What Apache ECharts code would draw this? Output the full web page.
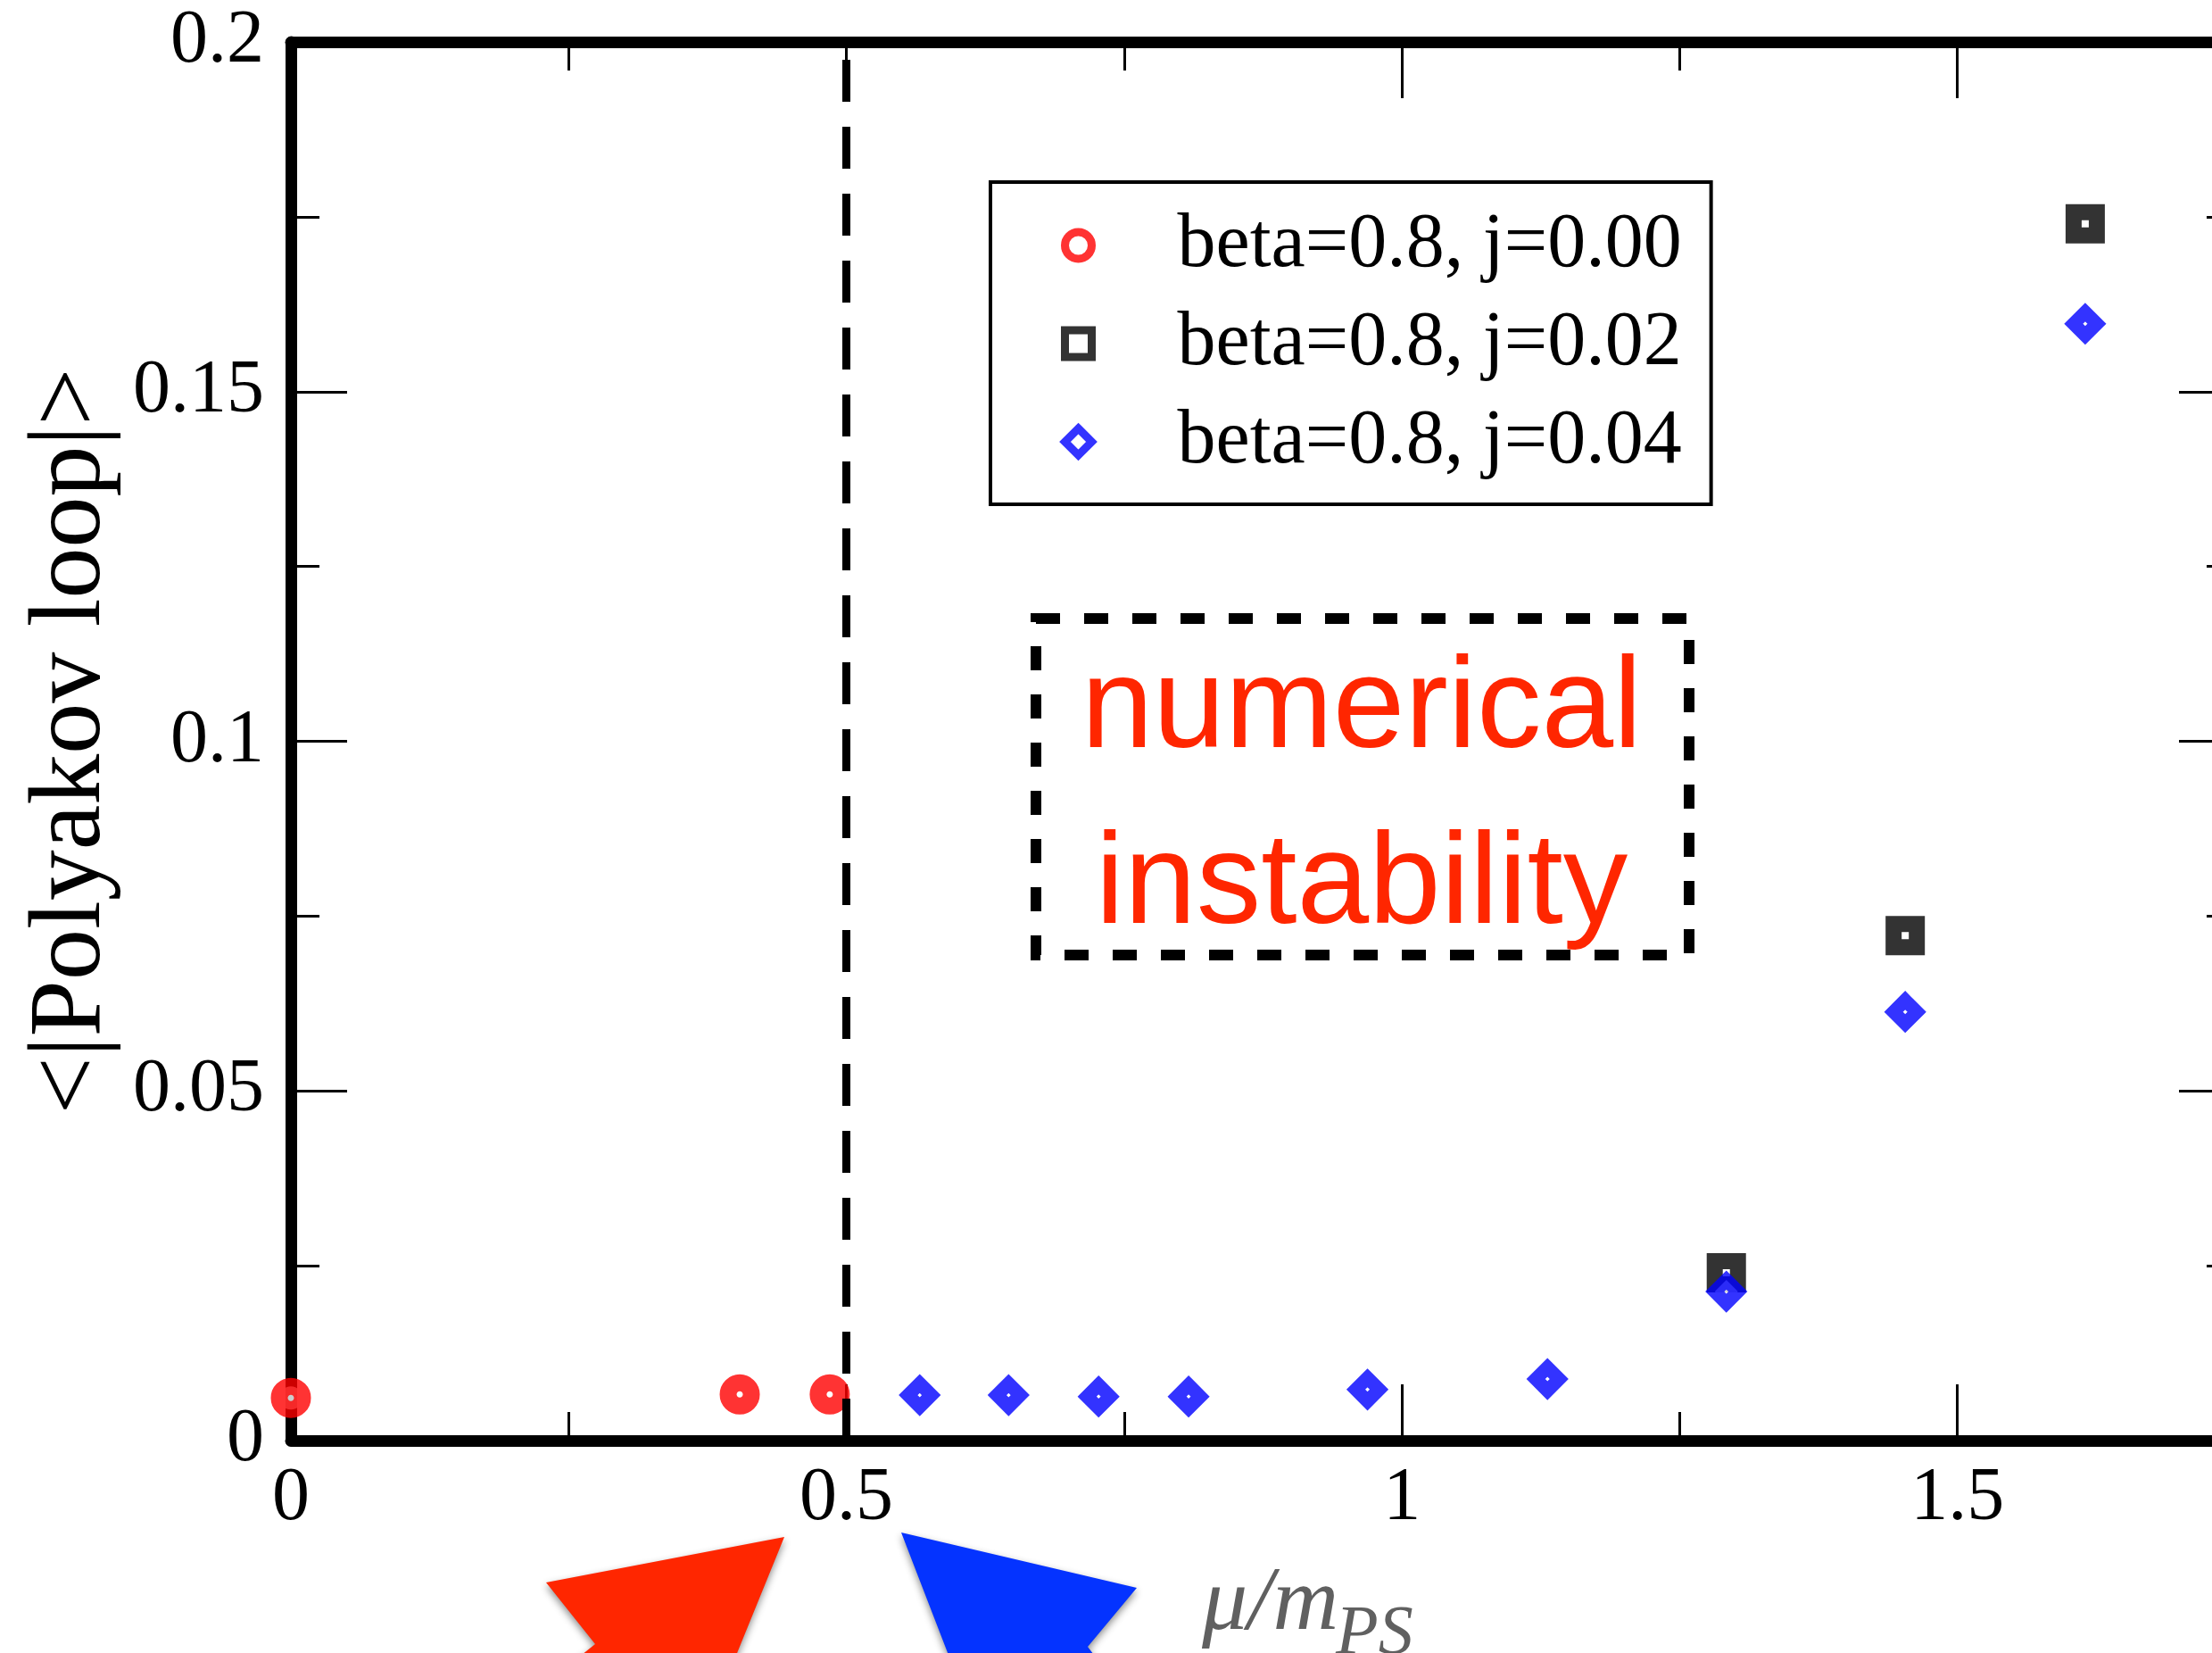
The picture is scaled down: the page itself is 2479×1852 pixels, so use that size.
<!DOCTYPE html>
<html><head><meta charset="utf-8">
<script src="https://cdn.jsdelivr.net/npm/echarts@6/dist/echarts.min.js"></script>
<style>html,body{margin:0;padding:0;background:#fff}#c{width:2479px;height:1852px}</style>
</head><body><div id="c"></div>
<script>
// ---- data ----
const seriesNames = ['beta=0.8, j=0.00', 'beta=0.8, j=0.02', 'beta=0.8, j=0.04'];
const muJ000 = [0, 0.404, 0.485];
const polyJ000 = [0.0061, 0.0066, 0.0066];
const muJ002 = [1.292, 1.453, 1.615];
const polyJ002 = [0.0240, 0.0722, 0.1740];
const muJ004 = [0.566, 0.646, 0.727, 0.808, 0.969, 1.131, 1.292, 1.453, 1.615];
const polyJ004 = [0.0065, 0.0065, 0.0063, 0.0063, 0.0073, 0.0088, 0.0213, 0.0613, 0.1597];
const xRange = [0, 1.75];
const yRange = [0, 0.2];
const xMajor = 0.5, xMinor = 0.25;
const yMajor = 0.05, yMinor = 0.025;
const boundaryMu = [0.5];
const annotationLines = ['numerical', 'instability'];
const xName = 'μ/m', xNameSub = 'PS';
const yName = '<|Polyakov loop|>';

const pairs = (xs, ys) => xs.map((x, i) => [x, ys[i]]);
const serif = '"Liberation Serif", "Times New Roman", serif';

function xAxisDef(pos, major, showLine) {
  return {
    type: 'value', position: pos, min: xRange[0], max: xRange[1],
    interval: major ? xMajor : xMinor,
    axisLine: { show: showLine, onZero: false, lineStyle: { color: '#000', width: 13 } },
    axisTick: { show: true, inside: true, length: major ? 63 : 32, lineStyle: { color: '#000', width: 3 } },
    axisLabel: {
      show: major && pos === 'bottom', margin: 24, fontSize: 84, fontFamily: serif, color: '#000',
      showMaxLabel: false,
      formatter: v => (Math.abs(v / xMajor - Math.round(v / xMajor)) < 1e-9 ? String(+v.toFixed(2)) : '')
    },
    splitLine: { show: false }
  };
}
function yAxisDef(pos, major, showLine) {
  const d = {
    type: 'value', position: pos, min: yRange[0], max: yRange[1],
    interval: major ? yMajor : yMinor,
    axisLine: { show: showLine, onZero: false, lineStyle: { color: '#000', width: 13 } },
    axisTick: { show: true, inside: true, length: major ? 63 : 32, lineStyle: { color: '#000', width: 3 } },
    axisLabel: { show: major && pos === 'left', margin: 30, fontSize: 84, fontFamily: serif, color: '#000' },
    splitLine: { show: false }
  };
  if (major && pos === 'left') {
    d.name = yName; d.nameLocation = 'middle'; d.nameGap = 186; d.nameRotate = 90;
    d.nameTextStyle = { fontSize: 114, fontFamily: serif, color: '#000' };
  }
  return d;
}

const chart = echarts.init(document.getElementById('c'), null, { renderer: 'canvas' });
chart.setOption({
  animation: false,
  backgroundColor: '#fff',
  grid: { left: 326, top: 47, width: 2179, height: 1567, containLabel: false, outerBoundsMode: 'none' },
  xAxis: [xAxisDef('bottom', true, true), xAxisDef('bottom', false, false), xAxisDef('top', true, true), xAxisDef('top', false, false)],
  yAxis: [yAxisDef('left', true, true), yAxisDef('left', false, false), yAxisDef('right', true, true), yAxisDef('right', false, false)],
  legend: {
    orient: 'vertical', left: 1110, top: 204,
    padding: [21, 33, 20, 79],
    itemWidth: 30, itemHeight: 30, itemGap: 10,
    borderColor: '#000', borderWidth: 4, backgroundColor: '#fff',
    selectedMode: false,
    itemStyle: { borderWidth: 9 },
    textStyle: { fontFamily: serif, fontSize: 86, color: '#000', lineHeight: 100, padding: [0, 0, 0, 91] },
    data: seriesNames
  },
  series: [
    {
      name: seriesNames[0], type: 'scatter', clip: false, symbol: 'circle', symbolSize: 26,
      itemStyle: { color: '#fff', borderColor: '#FF0000', borderWidth: 19 },
      data: pairs(muJ000, polyJ000),
      markLine: {
        silent: true, symbol: ['none', 'none'], label: { show: false },
        lineStyle: { color: '#000', width: 9, type: [47, 28] },
        data: boundaryMu.map(v => ({ xAxis: v }))
      }
    },
    {
      name: seriesNames[1], type: 'scatter', clip: false, symbol: 'rect', symbolSize: 26,
      itemStyle: { color: '#fff', borderColor: '#000', borderWidth: 18 },
      data: pairs(muJ002, polyJ002)
    },
    {
      name: seriesNames[2], type: 'scatter', clip: false, symbol: 'diamond', symbolSize: 26,
      itemStyle: { color: '#fff', borderColor: '#0000FF', borderWidth: 15 },
      data: pairs(muJ004, polyJ004)
    }
  ],
  graphic: [
    { type: 'rect', z: 10, shape: { x: 1161, y: 693, width: 732, height: 377 },
      style: { fill: 'none', stroke: '#000', lineWidth: 12, lineDash: [27, 27] } },
    { type: 'text', z: 10, x: 1526, y: 797,
      style: { text: annotationLines[0], fill: '#FF2600', font: '145px "Liberation Sans", Arial, sans-serif',
               align: 'center', verticalAlign: 'middle', textAlign: 'center', textVerticalAlign: 'middle' } },
    { type: 'text', z: 10, x: 1526, y: 994,
      style: { text: annotationLines[1], fill: '#FF2600', font: '145px "Liberation Sans", Arial, sans-serif',
               align: 'center', verticalAlign: 'middle', textAlign: 'center', textVerticalAlign: 'middle' } },
    { type: 'polygon', z: 10, shape: { points: [[879, 1722], [612, 1773], [667, 1842], [642, 1862], [822, 1862]] },
      style: { fill: '#FF2600', shadowBlur: 8, shadowOffsetX: 0, shadowOffsetY: 4, shadowColor: 'rgba(0,0,0,0.45)' } },
    { type: 'polygon', z: 10, shape: { points: [[1010, 1717], [1274, 1779], [1219, 1845], [1232, 1862], [1066, 1862]] },
      style: { fill: '#0433FF', shadowBlur: 8, shadowOffsetX: 0, shadowOffsetY: 4, shadowColor: 'rgba(0,0,0,0.45)' } },
    { type: 'text', z: 10, x: 1347, y: 1798,
      style: { text: xName, fill: '#606060', font: 'italic 102px "Liberation Serif", serif',
               align: 'left', verticalAlign: 'middle', textAlign: 'left', textVerticalAlign: 'middle' } },
    { type: 'text', z: 10, x: 1497, y: 1831,
      style: { text: xNameSub, fill: '#606060', font: 'italic 78px "Liberation Serif", serif',
               align: 'left', verticalAlign: 'middle', textAlign: 'left', textVerticalAlign: 'middle' } }
  ]
});
</script>
</body></html>
